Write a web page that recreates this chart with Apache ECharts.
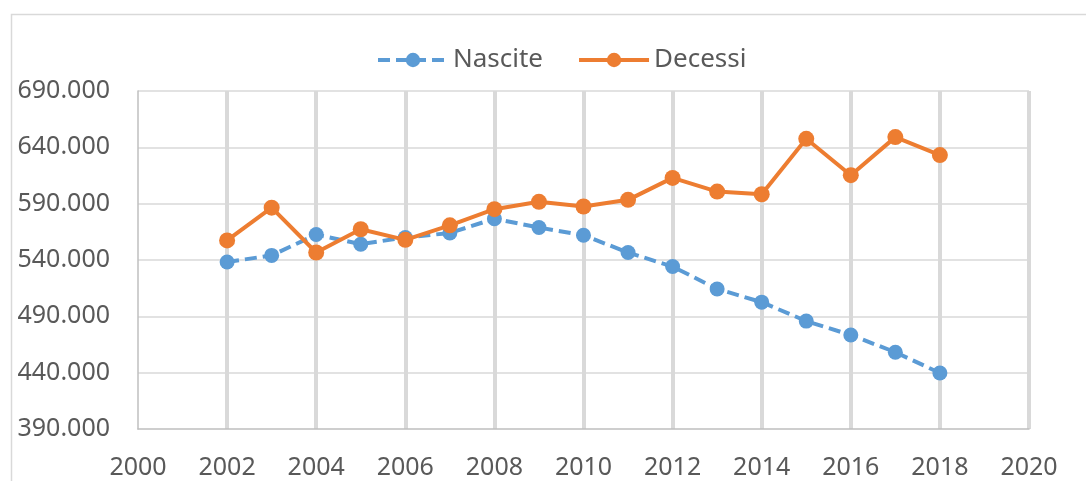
<!DOCTYPE html>
<html>
<head>
<meta charset="utf-8">
<script src="https://cdn.jsdelivr.net/npm/echarts@6/dist/echarts.min.js"></script>
<style>
  html, body { margin: 0; padding: 0; background: #fff; }
  #main { width: 1086px; height: 481px; }
</style>
</head>
<body>
<div id="main"></div>
<script>
var anni = [2002, 2003, 2004, 2005, 2006, 2007, 2008, 2009, 2010, 2011, 2012, 2013, 2014, 2015, 2016, 2017, 2018];
var nascite = [538198, 544063, 562599, 554022, 560010, 563933, 576659, 568857, 561944, 546607, 534186, 514308, 502596, 485780, 473438, 458151, 439747];
var decessi = [557393, 586468, 546658, 567304, 557892, 570801, 585126, 591663, 587488, 593402, 612883, 600744, 598364, 647571, 615261, 649061, 633133];

var FONT = '"Noto Sans", sans-serif';
var GRIGIO = '#D9D9D9';

function coppie(valori) {
  var out = [];
  for (var i = 0; i < anni.length; i++) {
    out.push([anni[i], valori[i]]);
  }
  return out;
}

// separatore migliaia all'italiana
function migliaia(v) {
  return String(Math.round(v)).replace(/\B(?=(\d{3})+(?!\d))/g, '.');
}

var chart = echarts.init(document.getElementById('main'), null, { renderer: 'canvas' });

chart.setOption({
  animation: false,
  backgroundColor: '#fff',
  textStyle: { fontFamily: FONT },
  legend: {
    left: 371,
    top: 42,
    itemWidth: 70,
    itemHeight: 18,
    itemGap: 34,
    lineStyle: { width: 4 },
    textStyle: { fontSize: 26, color: '#595959', fontFamily: FONT },
    data: ['Nascite', 'Decessi']
  },
  grid: {
    left: 138,
    right: 57,
    top: 91,
    bottom: 52,
    outerBoundsMode: 'none'
  },
  xAxis: {
    type: 'value',
    min: 2000,
    max: 2020,
    interval: 2,
    axisLine: { show: true, lineStyle: { color: '#BFBFBF', width: 1.5 } },
    axisTick: { show: false },
    axisLabel: {
      fontSize: 25,
      color: '#595959',
      margin: 26,
      fontFamily: FONT,
      formatter: function (v) { return String(v); }
    },
    splitLine: { show: true, showMinLine: false, lineStyle: { color: GRIGIO, width: 4 } }
  },
  yAxis: {
    type: 'value',
    min: 390000,
    max: 690000,
    interval: 50000,
    axisLine: { show: true, lineStyle: { color: '#BFBFBF', width: 1.5 } },
    axisTick: { show: false },
    axisLabel: {
      fontSize: 25,
      color: '#595959',
      margin: 28,
      fontFamily: FONT,
      formatter: migliaia
    },
    splitLine: { show: true, showMinLine: false, lineStyle: { color: GRIGIO, width: 1.5 } }
  },
  graphic: [{
    type: 'polyline',
    silent: true,
    shape: { points: [[11.5, 481], [11.5, 14.5], [1086, 14.5]] },
    style: { stroke: GRIGIO, lineWidth: 1.5, fill: null }
  }],
  series: [
    {
      name: 'Nascite',
      type: 'line',
      data: coppie(nascite),
      symbol: 'circle',
      symbolSize: 15,
      color: '#5B9BD5',
      lineStyle: { width: 4, type: [12, 6], color: '#5B9BD5' },
      itemStyle: { color: '#5B9BD5' },
      z: 3
    },
    {
      name: 'Decessi',
      type: 'line',
      data: coppie(decessi),
      symbol: 'circle',
      symbolSize: 16,
      color: '#ED7D31',
      lineStyle: { width: 4, color: '#ED7D31' },
      itemStyle: { color: '#ED7D31' },
      z: 4
    }
  ]
});
</script>
</body>
</html>
